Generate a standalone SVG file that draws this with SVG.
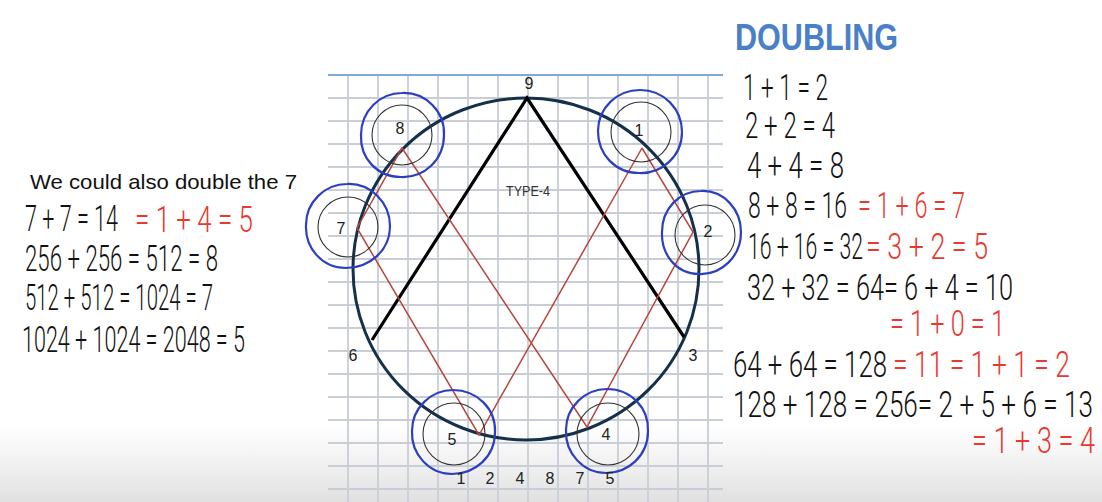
<svg xmlns="http://www.w3.org/2000/svg" width="1102" height="502" viewBox="0 0 1102 502">
<defs>
<linearGradient id="fade" x1="0" y1="0" x2="0" y2="1">
<stop offset="0" stop-color="#e6e6e6" stop-opacity="0"/>
<stop offset="1" stop-color="#e0e0e0" stop-opacity="1"/>
</linearGradient>
</defs>
<style>
.grid line{stroke:#c9ced6;stroke-width:1.8}
.blue{fill:none;stroke:#2b3fc0;stroke-width:2.2}
.inner{fill:none;stroke:#333;stroke-width:1.1}
.lbl{font-family:"Liberation Sans",Arial,sans-serif;font-size:16px;fill:#222;text-anchor:middle}
.red{stroke:#b8463c;stroke-width:1.5;fill:none}
.blk{stroke:#000;stroke-width:3.2;fill:none}
.eq{font-family:Roboto,"Liberation Sans",Arial,sans-serif;font-weight:300;font-size:36px;fill:#111}
.r{fill:#e8392f}
</style>
<rect width="1102" height="502" fill="#ffffff"/>
<rect x="0" y="425" width="1102" height="77" fill="url(#fade)"/>
<g class="grid">
<line x1="348" y1="75" x2="348" y2="502"/><line x1="378" y1="75" x2="378" y2="502"/><line x1="408" y1="75" x2="408" y2="502"/><line x1="438" y1="75" x2="438" y2="502"/><line x1="468" y1="75" x2="468" y2="502"/><line x1="498" y1="75" x2="498" y2="502"/><line x1="528" y1="75" x2="528" y2="502"/><line x1="558" y1="75" x2="558" y2="502"/><line x1="588" y1="75" x2="588" y2="502"/><line x1="618" y1="75" x2="618" y2="502"/><line x1="648" y1="75" x2="648" y2="502"/><line x1="678" y1="75" x2="678" y2="502"/><line x1="708" y1="75" x2="708" y2="502"/>
<line x1="328" y1="98" x2="723" y2="98"/><line x1="328" y1="121" x2="723" y2="121"/><line x1="328" y1="144" x2="723" y2="144"/><line x1="328" y1="167" x2="723" y2="167"/><line x1="328" y1="190" x2="723" y2="190"/><line x1="328" y1="213" x2="723" y2="213"/><line x1="328" y1="236" x2="723" y2="236"/><line x1="328" y1="259" x2="723" y2="259"/><line x1="328" y1="282" x2="723" y2="282"/><line x1="328" y1="305" x2="723" y2="305"/><line x1="328" y1="328" x2="723" y2="328"/><line x1="328" y1="351" x2="723" y2="351"/><line x1="328" y1="374" x2="723" y2="374"/><line x1="328" y1="397" x2="723" y2="397"/><line x1="328" y1="420" x2="723" y2="420"/><line x1="328" y1="443" x2="723" y2="443"/><line x1="328" y1="466" x2="723" y2="466"/><line x1="328" y1="489" x2="723" y2="489"/>
<line x1="328" y1="75" x2="723" y2="75" style="stroke:#7fa9d6;stroke-width:2"/>
</g>
<ellipse id="enneagram" cx="526" cy="269" rx="173" ry="171" fill="none" stroke="#14304a" stroke-width="3"/>
<g id="connectors">
<polyline class="blk" points="372,340 527,98 684,337"/>
<polyline class="red" points="642,148 693,232 587,427 402,148 357,228 479,435 642,148"/>
</g>
<text class="lbl" x="529" y="89">9</text>
<text class="lbl" x="353" y="361">6</text>
<text class="lbl" x="693" y="361">3</text>
<text x="528" y="196" font-family="Liberation Sans,Arial,sans-serif" font-size="15" fill="#333" text-anchor="middle" textLength="44" lengthAdjust="spacingAndGlyphs">TYPE-4</text>
<g id="node-8"><path class="blue" d="M402,93 C426,92 445,112 444,135 C444,160 424,178 401,177 C377,177 360,158 361,135 C361,111 380,93 402,93 Z"/><circle class="inner" cx="402" cy="135" r="30"/><text class="lbl" x="400" y="134">8</text></g>
<g id="node-1"><path class="blue" d="M640,90 C664,90 682,109 682,132 C682,156 662,174 639,173 C615,173 598,154 598,131 C598,108 617,90 640,90 Z"/><circle class="inner" cx="641" cy="132" r="30"/><text class="lbl" x="639" y="136">1</text></g>
<g id="node-7"><path class="blue" d="M347,184 C371,183 390,203 390,226 C390,251 369,268 346,268 C322,268 305,248 306,225 C306,202 325,184 347,184 Z"/><circle class="inner" cx="348" cy="227" r="30"/><text class="lbl" x="341" y="234">7</text></g>
<g id="node-2"><path class="blue" d="M701,191 C724,190 741,210 741,232 C741,256 722,275 699,274 C676,274 661,254 662,232 C662,209 679,191 701,191 Z"/><circle class="inner" cx="705" cy="235" r="30"/><text class="lbl" x="708" y="237">2</text></g>
<g id="node-5"><path class="blue" d="M453,390 C477,390 496,409 495,432 C495,457 475,474 452,474 C429,474 411,454 412,431 C412,408 431,390 453,390 Z"/><circle class="inner" cx="454" cy="434" r="31"/><text class="lbl" x="452" y="445">5</text></g>
<g id="node-4"><path class="blue" d="M607,389 C631,389 649,408 648,431 C648,456 628,473 606,473 C583,473 565,453 566,430 C566,407 585,389 607,389 Z"/><circle class="inner" cx="608" cy="434" r="31"/><text class="lbl" x="606" y="440">4</text></g>
<g id="sequence" font-family="Liberation Sans,Arial,sans-serif" font-size="16" fill="#222" text-anchor="middle">
<text x="461" y="484">1</text><text x="490" y="484">2</text><text x="520" y="484">4</text><text x="550" y="484">8</text><text x="580" y="484">7</text><text x="610" y="484">5</text>
</g>
<text x="30" y="189" font-family="Liberation Sans,Arial,sans-serif" font-size="21" fill="#111" textLength="267" lengthAdjust="spacingAndGlyphs">We could also double the 7</text>
<g id="left-eqs">
<text class="eq" x="25" y="231" font-size="30" textLength="93" lengthAdjust="spacingAndGlyphs">7 + 7 = 14</text>
<text class="eq r" x="135" y="232" font-size="34" textLength="118" lengthAdjust="spacingAndGlyphs">= 1 + 4 = 5</text>
<text class="eq" x="25" y="271" font-size="35" textLength="193" lengthAdjust="spacingAndGlyphs">256 + 256 = 512 = 8</text>
<text class="eq" x="25" y="310" font-size="34" textLength="188" lengthAdjust="spacingAndGlyphs">512 + 512 = 1024 = 7</text>
<text class="eq" x="22" y="352" font-size="35" textLength="223" lengthAdjust="spacingAndGlyphs">1024 + 1024 = 2048 = 5</text>
</g>
<text x="735" y="50" font-family="Liberation Sans,Arial,sans-serif" font-weight="bold" font-size="37" fill="#4a80c8" textLength="163" lengthAdjust="spacingAndGlyphs">DOUBLING</text>
<g id="right-eqs">
<text class="eq" x="743" y="100" textLength="85" lengthAdjust="spacingAndGlyphs">1 + 1 = 2</text>
<text class="eq" x="745" y="138" textLength="90" lengthAdjust="spacingAndGlyphs">2 + 2 = 4</text>
<text class="eq" x="747" y="178" textLength="97" lengthAdjust="spacingAndGlyphs">4 + 4 = 8</text>
<text class="eq" x="748" y="218" font-size="35" textLength="99" lengthAdjust="spacingAndGlyphs">8 + 8 = 16</text>
<text class="eq r" x="858" y="218" font-size="33" textLength="107" lengthAdjust="spacingAndGlyphs">= 1 + 6 = 7</text>
<text class="eq" x="748" y="259" font-size="37" textLength="115" lengthAdjust="spacingAndGlyphs">16 + 16 = 32</text>
<text class="eq r" x="866" y="259" font-size="37" textLength="122" lengthAdjust="spacingAndGlyphs">= 3 + 2 = 5</text>
<text class="eq" x="747" y="300" font-size="35" textLength="266" lengthAdjust="spacingAndGlyphs">32 + 32 = 64= 6 + 4 = 10</text>
<text class="eq r" x="890" y="336" font-size="32" textLength="115" lengthAdjust="spacingAndGlyphs">= 1 + 0 = 1</text>
<text class="eq" x="733" y="377" font-size="40" textLength="154" lengthAdjust="spacingAndGlyphs">64 + 64 = 128</text>
<text class="eq r" x="893" y="377" font-size="44" textLength="177" lengthAdjust="spacingAndGlyphs">= 11 = 1 + 1 = 2</text>
<text class="eq" x="733" y="417" font-size="40" textLength="360" lengthAdjust="spacingAndGlyphs">128 + 128 = 256= 2 + 5 + 6 = 13</text>
<text class="eq r" x="972" y="453" font-size="32" textLength="123" lengthAdjust="spacingAndGlyphs">= 1 + 3 = 4</text>
</g>
</svg>
